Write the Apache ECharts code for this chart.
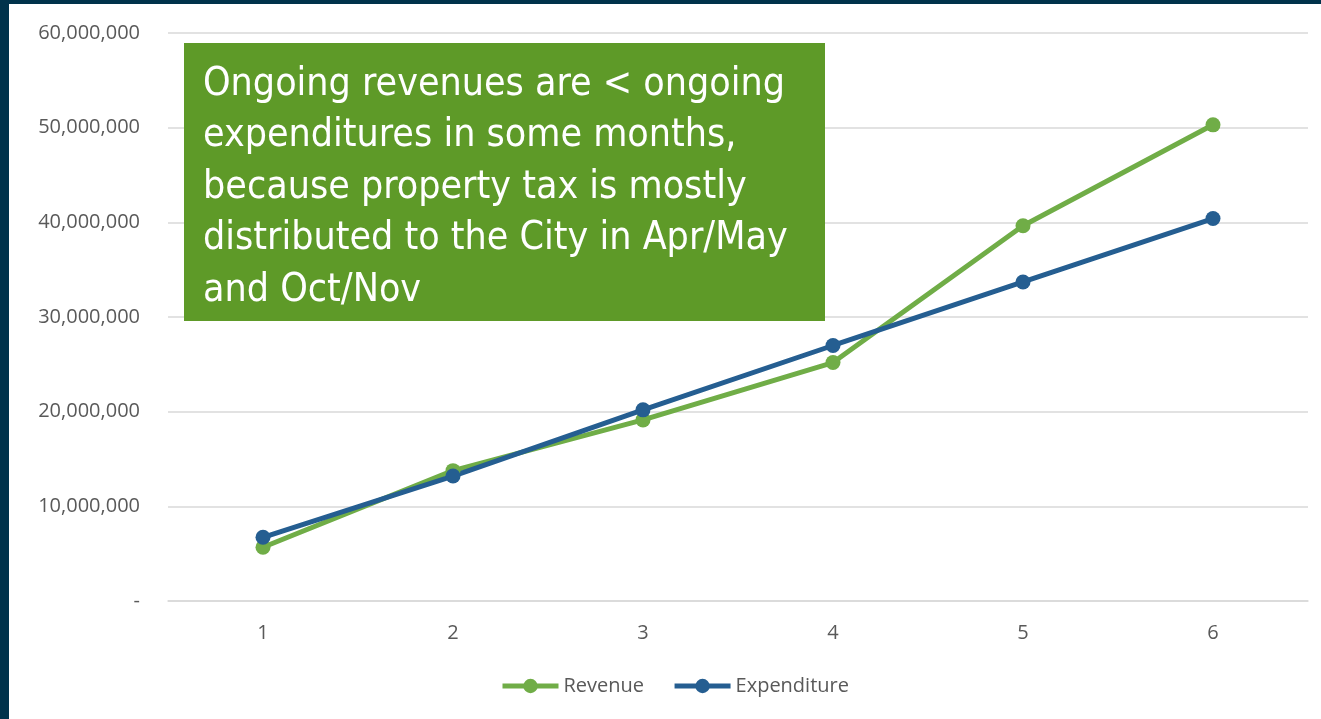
<!DOCTYPE html>
<html>
<head>
<meta charset="utf-8">
<script src="https://cdn.jsdelivr.net/npm/echarts@6/dist/echarts.min.js"></script>
<style>
    html, body { margin: 0; padding: 0; background: #fff; }
    .frame {
        width: 1321px; height: 719px; box-sizing: border-box;
        border-left: 9px solid #00324b; border-top: 4px solid #00324b;
        position: relative; overflow: hidden;
    }
    #chart { position: absolute; left: -9px; top: -4px; width: 1321px; height: 719px; }
</style>
</head>
<body>
<div class="frame"><div id="chart"></div></div>
<script>
var months = ['1', '2', '3', '4', '5', '6'];
var revenue = [5680000, 13770000, 19130000, 25190000, 39640000, 50300000];
var expenditure = [6730000, 13200000, 20190000, 26990000, 33700000, 40400000];
var noteLines = [
    'Ongoing revenues are < ongoing',
    'expenditures in some months,',
    'because property tax is mostly',
    'distributed to the City in Apr/May',
    'and Oct/Nov'
];

var chart = echarts.init(document.getElementById('chart'));

var fmt = function (v) {
    if (v === 0) return '-';
    return v.toLocaleString('en-US');
};

var option = {
    backgroundColor: 'transparent',
    animation: false,
    textStyle: { fontFamily: 'Open Sans' },
    grid: { left: 168, right: 13, top: 33, bottom: 118 },
    legend: {
        top: 671,
        left: 495,
        itemWidth: 56,
        itemHeight: 18,
        itemGap: 28,
        lineStyle: { width: 5 },
        textStyle: { color: '#595959', fontSize: 20 },
        data: ['Revenue', 'Expenditure']
    },
    xAxis: {
        type: 'category',
        data: months,
        boundaryGap: true,
        axisLine: { show: true, lineStyle: { color: '#d9d9d9', width: 1.5 } },
        axisTick: { show: false },
        axisLabel: { color: '#595959', fontSize: 20, margin: 22 }
    },
    yAxis: {
        type: 'value',
        min: 0,
        max: 60000000,
        interval: 10000000,
        axisLine: { show: false },
        axisTick: { show: false },
        splitLine: { lineStyle: { color: '#d9d9d9', width: 1.5 } },
        axisLabel: { color: '#595959', fontSize: 20, margin: 28, formatter: fmt }
    },
    series: [
        {
            name: 'Revenue',
            type: 'line',
            data: revenue,
            symbol: 'circle',
            symbolSize: 15,
            lineStyle: { width: 5, color: '#70ad47' },
            itemStyle: { color: '#70ad47' }
        },
        {
            name: 'Expenditure',
            type: 'line',
            data: expenditure,
            symbol: 'circle',
            symbolSize: 15,
            lineStyle: { width: 5, color: '#255e91' },
            itemStyle: { color: '#255e91' }
        }
    ],
    graphic: [
        {
            type: 'rect',
            left: 184, top: 43, z: 100,
            shape: { width: 641, height: 278 },
            style: { fill: '#5e9a28' }
        },
        {
            type: 'text',
            left: 203, top: 59, z: 101,
            style: {
                text: noteLines.join('\n'),
                fill: '#ffffff',
                font: '39px "Liberation Sans Narrow", "DejaVu Sans Condensed", sans-serif',
                lineHeight: 51.5
            }
        }
    ]
};

chart.setOption(option);
</script>
</body>
</html>
